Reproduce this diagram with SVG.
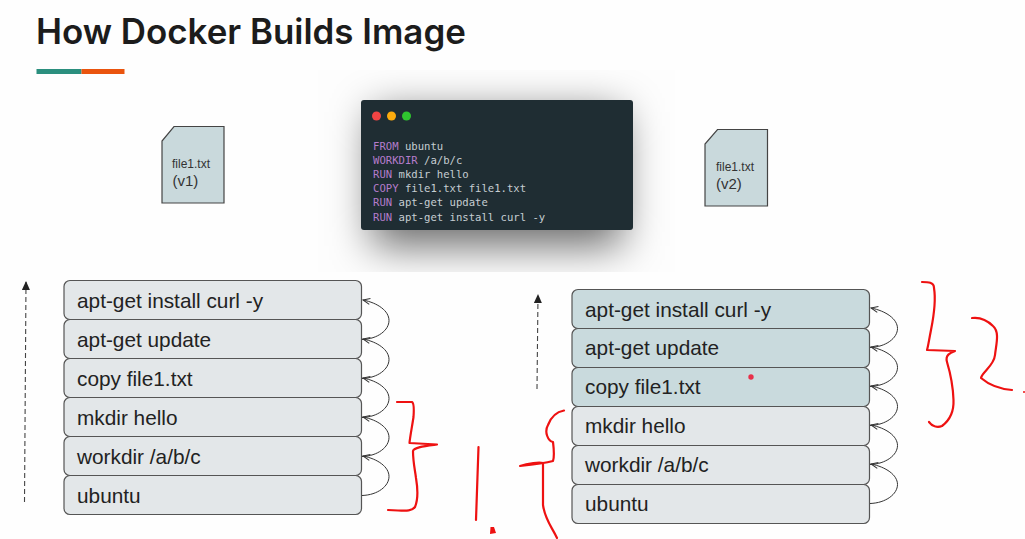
<svg xmlns="http://www.w3.org/2000/svg" width="1025" height="539" viewBox="0 0 1025 539">
<style>
.box{stroke:#555;stroke-width:1.2}
.g{fill:#e3e7e9}
.b{fill:#c9dadd}
.t{font-family:"Liberation Sans",Arial,sans-serif;font-size:20.8px;fill:#222}
.c{font-family:"DejaVu Sans Mono",monospace;font-size:10.6px;fill:#c6ced2}
.k{fill:#b57ccb}
.f{fill:#c9d9dc;stroke:#444;stroke-width:1.2}
.s{font-family:"Liberation Sans",Arial,sans-serif;font-size:12px;fill:#333}
.v{font-family:"Liberation Sans",Arial,sans-serif;font-size:15px;fill:#333}
.arc{fill:none;stroke:#333;stroke-width:1;marker-end:url(#open)}
.dash{fill:none;stroke:#444;stroke-width:1.1;stroke-dasharray:5 3;marker-end:url(#solid)}
.red{fill:none;stroke:#ee1111;stroke-width:2.2;stroke-linecap:round;stroke-linejoin:round}
</style>
<defs>
<marker id="open" markerWidth="9" markerHeight="8" refX="8" refY="4" orient="auto" markerUnits="userSpaceOnUse"><path d="M1,1 L8,4 L1,7" fill="none" stroke="#333" stroke-width="1"/></marker>
<marker id="solid" markerWidth="9" markerHeight="10" refX="8" refY="4" orient="auto" markerUnits="userSpaceOnUse"><path d="M0,0 L9,4 L0,8 Z" fill="#222"/></marker>
<filter id="blur" x="-40%" y="-60%" width="180%" height="220%"><feGaussianBlur stdDeviation="21"/></filter>
<clipPath id="shot"><rect x="318" y="70" width="357" height="202"/></clipPath>
</defs>
<rect width="1025" height="539" fill="#fefefe"/>
<g id="title">
<text x="36" y="44" font-family="Inter,'Liberation Sans',sans-serif" font-size="34.900" font-weight="600" fill="#1c1c1c">How Docker Builds Image</text>
<rect x="36.500" y="69" width="45" height="5" fill="#2b8f7e"/>
<rect x="81.500" y="69" width="43" height="5" fill="#ea540e"/>
</g>
<g id="dockerfile">
<g clip-path="url(#shot)"><rect x="318" y="70" width="357" height="202" fill="#fdfdfd"/><rect x="372" y="112" width="250" height="134" fill="#000" fill-opacity=".58" filter="url(#blur)"/></g>
<rect x="361" y="100" width="272" height="130" rx="3" fill="#1f2d33"/>
<circle cx="376.500" cy="116" r="4.500" fill="#f24444"/><circle cx="391.500" cy="116" r="4.500" fill="#fdab0d"/><circle cx="406.500" cy="116" r="4.500" fill="#2fc62f"/>
<text class="c" x="373" y="150"><tspan class="k">FROM</tspan> ubuntu</text>
<text class="c" x="373" y="164"><tspan class="k">WORKDIR</tspan> /a/b/c</text>
<text class="c" x="373" y="178"><tspan class="k">RUN</tspan> mkdir hello</text>
<text class="c" x="373" y="192"><tspan class="k">COPY</tspan> file1.txt file1.txt</text>
<text class="c" x="373" y="206"><tspan class="k">RUN</tspan> apt-get update</text>
<text class="c" x="373" y="220.500"><tspan class="k">RUN</tspan> apt-get install curl -y</text>
</g>
<g id="file-v1"><path class="f" d="M174,126.500H224V203H162V141Z"/><text class="s" x="172" y="168">file1.txt</text><text class="v" x="172.500" y="186">(v1)</text></g>
<g id="file-v2"><path class="f" d="M717.500,129.500H767.500V206H705V144Z"/><text class="s" x="716" y="171">file1.txt</text><text class="v" x="716" y="189">(v2)</text></g>
<g id="left-stack">
<g id="l6"><rect class="box g" x="64" y="280.500" width="297.500" height="39" rx="6"/><text class="t" x="77" y="308">apt-get install curl -y</text></g>
<g id="l5"><rect class="box g" x="64" y="319.500" width="297.500" height="39" rx="6"/><text class="t" x="77" y="347">apt-get update</text></g>
<g id="l4"><rect class="box g" x="64" y="358.500" width="297.500" height="39" rx="6"/><text class="t" x="77" y="386">copy file1.txt</text></g>
<g id="l3"><rect class="box g" x="64" y="397.500" width="297.500" height="39" rx="6"/><text class="t" x="77" y="425">mkdir hello</text></g>
<g id="l2"><rect class="box g" x="64" y="436.500" width="297.500" height="39" rx="6"/><text class="t" x="77" y="464">workdir /a/b/c</text></g>
<g id="l1"><rect class="box g" x="64" y="475.500" width="297.500" height="39" rx="6"/><text class="t" x="77" y="503">ubuntu</text></g>
</g>
<g id="right-stack">
<g id="r6"><rect class="box b" x="572" y="289.500" width="297.500" height="39" rx="6"/><text class="t" x="585" y="317">apt-get install curl -y</text></g>
<g id="r5"><rect class="box b" x="572" y="328.500" width="297.500" height="39" rx="6"/><text class="t" x="585" y="355">apt-get update</text></g>
<g id="r4"><rect class="box b" x="572" y="367.500" width="297.500" height="39" rx="6"/><text class="t" x="585" y="394">copy file1.txt</text></g>
<g id="r3"><rect class="box g" x="572" y="406.500" width="297.500" height="39" rx="6"/><text class="t" x="585" y="433">mkdir hello</text></g>
<g id="r2"><rect class="box g" x="572" y="445.500" width="297.500" height="39" rx="6"/><text class="t" x="585" y="472">workdir /a/b/c</text></g>
<g id="r1"><rect class="box g" x="572" y="484.500" width="297.500" height="39" rx="6"/><text class="t" x="585" y="511">ubuntu</text></g>
</g>
<g id="connectors">
<path class="arc" d="M362,495.500C378,495 389,486 389,476.500C389,467 378,459 363,456"/>
<path class="arc" d="M362,456.500C378,456 389,447 389,437.500C389,428 378,420 363,417"/>
<path class="arc" d="M362,417.500C378,417 389,408 389,398.500C389,389 378,381 363,378"/>
<path class="arc" d="M362,378.500C378,378 389,369 389,359.500C389,350 378,342 363,339"/>
<path class="arc" d="M362,339.500C378,339 389,330 389,320.500C389,311 378,303 363,300"/>
<path class="arc" d="M870,503.500C886,503 897.500,494 897.500,484.500C897.500,475 886,467 871,464"/>
<path class="arc" d="M870,464.500C886,464 897.500,455 897.500,445.500C897.500,436 886,428 871,425"/>
<path class="arc" d="M870,425.500C886,425 897.500,416 897.500,406.500C897.500,397 886,389 871,386"/>
<path class="arc" d="M870,386.500C886,386 897.500,377 897.500,367.500C897.500,358 886,350 871,347"/>
<path class="arc" d="M870,347.500C886,347 897.500,338 897.500,328.500C897.500,319 886,311 871,308"/>
<path class="dash" d="M24.500,502L26,282"/>
<path class="dash" d="M537,389L538,295"/>
</g>
<g id="annotations">
<path class="red" d="M397,402L412,402C414,403 414,410 413.500,417C412,427 410,437 409.500,443L437,444.500C425,446 414,447 413,451C413,462 415,470 416,478C418,490 418,500 415,507C412,511 407,511 398,510.500L388,510"/>
<path class="red" d="M478.500,447L476,520"/>
<path d="M490,534L490.500,527L494,527L496,533Z" fill="#ee1111"/>
<path class="red" d="M922,282C928,282 934,282 934,288C936,300 934,315 931,330C929,340 928,347 927,350L955,351C950,353 945,355 947,362C950,372 953,385 953.500,400C954,412 950,420 942,426C937,428 932,426 929,422"/>
<path class="red" d="M972,318C980,317 986,319 993,326C1000,332 996,345 995,355C994,366 982,372 981,378C988,384 1000,389 1012,390"/>
<circle cx="1024" cy="392" r="1" fill="#ee1111"/>
<path class="red" d="M564,410.500C556,412 551,417 548,425C544,432 548,441 553,442C554,450 554,458 553,461C546,463 530,465 520,466C528,463 540,462 543,463L543,505C545,520 552,527 557,538"/>
<circle cx="751" cy="377" r="2.700" fill="#e8304a"/>
</g>
</svg>
